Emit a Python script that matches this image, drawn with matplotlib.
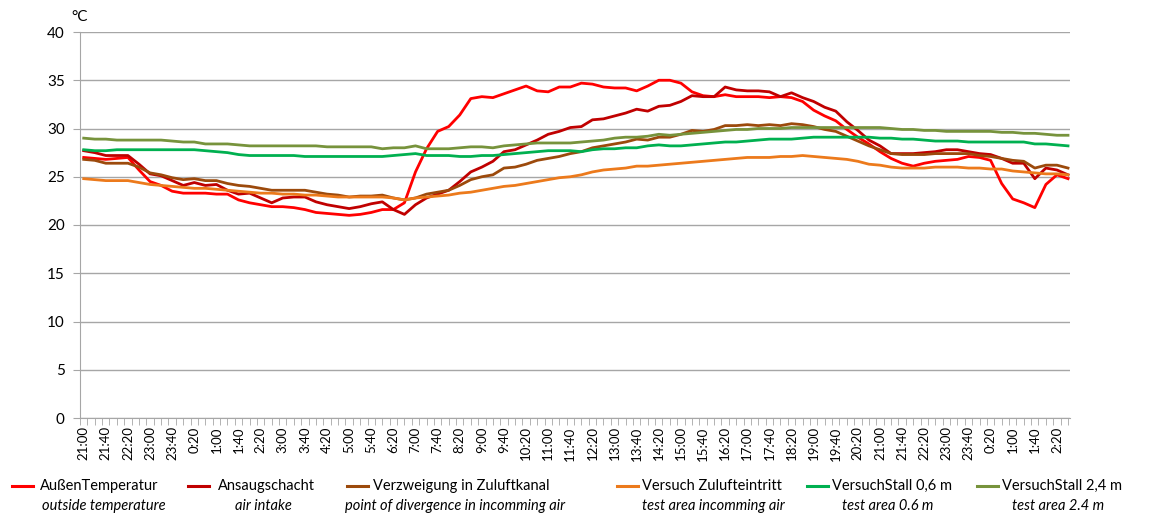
import numpy as np
import matplotlib
matplotlib.use('Agg')
from matplotlib import pyplot as plt
from matplotlib.lines import Line2D

plt.rcParams['font.family'] = ['Lato', 'DejaVu Sans']

# tick labels of the time axis (every 40 min)
time_labels = ['21:00', '21:40', '22:20', '23:00', '23:40', '0:20', '1:00', '1:40', '2:20',
               '3:00', '3:40', '4:20', '5:00', '5:40', '6:20', '7:00', '7:40', '8:20',
               '9:00', '9:40', '10:20', '11:00', '11:40', '12:20', '13:00', '13:40', '14:20',
               '15:00', '15:40', '16:20', '17:00', '17:40', '18:20', '19:00', '19:40', '20:20',
               '21:00', '21:40', '22:20', '23:00', '23:40', '0:20', '1:00', '1:40', '2:20']

# measured temperatures, one value every 20 min starting 21:00
aussen = [27.0, 26.9, 26.8, 26.9, 27.0, 25.7, 24.5, 24.1, 23.5, 23.3,
          23.3, 23.3, 23.2, 23.2, 22.6, 22.3, 22.1, 21.9, 21.9, 21.8,
          21.6, 21.3, 21.2, 21.1, 21.0, 21.1, 21.3, 21.6, 21.6, 22.3,
          25.5, 27.9, 29.7, 30.2, 31.4, 33.1, 33.3, 33.2, 33.6, 34.0,
          34.4, 33.9, 33.8, 34.3, 34.3, 34.7, 34.6, 34.3, 34.2, 34.2,
          33.9, 34.4, 35.0, 35.0, 34.7, 33.8, 33.4, 33.3, 33.5, 33.3,
          33.3, 33.3, 33.2, 33.3, 33.2, 32.8, 31.9, 31.3, 30.8, 29.9,
          29.1, 28.4, 27.6, 26.9, 26.4, 26.1, 26.4, 26.6, 26.7, 26.8,
          27.1, 27.0, 26.7, 24.3, 22.7, 22.3, 21.8, 24.2, 25.2, 24.8]

ansaug = [27.7, 27.5, 27.2, 27.2, 27.2, 26.3, 25.3, 25.1, 24.6, 24.1,
          24.4, 24.1, 24.2, 23.6, 23.2, 23.3, 22.8, 22.3, 22.8, 22.9,
          22.9, 22.4, 22.1, 21.9, 21.7, 21.9, 22.2, 22.4, 21.6, 21.1,
          22.1, 22.8, 23.2, 23.6, 24.5, 25.5, 26.0, 26.6, 27.6, 27.8,
          28.3, 28.8, 29.4, 29.7, 30.1, 30.2, 30.9, 31.0, 31.3, 31.6,
          32.0, 31.8, 32.3, 32.4, 32.8, 33.4, 33.3, 33.3, 34.3, 34.0,
          33.9, 33.9, 33.8, 33.3, 33.7, 33.2, 32.8, 32.2, 31.8, 30.7,
          29.8, 28.8, 28.2, 27.4, 27.4, 27.4, 27.5, 27.6, 27.8, 27.8,
          27.6, 27.4, 27.3, 26.9, 26.4, 26.4, 24.8, 25.9, 25.7, 25.2]

verzweigung = [26.8, 26.7, 26.4, 26.4, 26.4, 26.0, 25.4, 25.2, 24.9, 24.7,
               24.8, 24.6, 24.6, 24.3, 24.1, 24.0, 23.8, 23.6, 23.6, 23.6,
               23.6, 23.4, 23.2, 23.1, 22.9, 23.0, 23.0, 23.1, 22.8, 22.6,
               22.8, 23.2, 23.4, 23.6, 24.1, 24.7, 25.0, 25.2, 25.9, 26.0,
               26.3, 26.7, 26.9, 27.1, 27.4, 27.6, 28.0, 28.2, 28.4, 28.6,
               28.9, 28.8, 29.1, 29.1, 29.4, 29.8, 29.7, 29.9, 30.3, 30.3,
               30.4, 30.3, 30.4, 30.3, 30.5, 30.4, 30.2, 29.9, 29.7, 29.2,
               28.7, 28.2, 27.8, 27.4, 27.3, 27.3, 27.3, 27.4, 27.4, 27.4,
               27.4, 27.2, 27.1, 26.9, 26.7, 26.6, 25.9, 26.2, 26.2, 25.9]

zuluft = [24.8, 24.7, 24.6, 24.6, 24.6, 24.4, 24.2, 24.1, 24.0, 23.9,
          23.8, 23.8, 23.7, 23.6, 23.5, 23.4, 23.3, 23.3, 23.2, 23.2,
          23.1, 23.1, 23.0, 22.9, 22.9, 22.9, 22.9, 22.9, 22.8, 22.6,
          22.8, 22.9, 23.0, 23.1, 23.3, 23.4, 23.6, 23.8, 24.0, 24.1,
          24.3, 24.5, 24.7, 24.9, 25.0, 25.2, 25.5, 25.7, 25.8, 25.9,
          26.1, 26.1, 26.2, 26.3, 26.4, 26.5, 26.6, 26.7, 26.8, 26.9,
          27.0, 27.0, 27.0, 27.1, 27.1, 27.2, 27.1, 27.0, 26.9, 26.8,
          26.6, 26.3, 26.2, 26.0, 25.9, 25.9, 25.9, 26.0, 26.0, 26.0,
          25.9, 25.9, 25.8, 25.8, 25.6, 25.5, 25.4, 25.3, 25.3, 25.2]

stall_06 = [27.8, 27.7, 27.7, 27.8, 27.8, 27.8, 27.8, 27.8, 27.8, 27.8,
            27.8, 27.7, 27.6, 27.5, 27.3, 27.2, 27.2, 27.2, 27.2, 27.2,
            27.1, 27.1, 27.1, 27.1, 27.1, 27.1, 27.1, 27.1, 27.2, 27.3,
            27.4, 27.2, 27.2, 27.2, 27.1, 27.1, 27.2, 27.2, 27.3, 27.4,
            27.5, 27.6, 27.7, 27.7, 27.7, 27.6, 27.8, 27.9, 27.9, 28.0,
            28.0, 28.2, 28.3, 28.2, 28.2, 28.3, 28.4, 28.5, 28.6, 28.6,
            28.7, 28.8, 28.9, 28.9, 28.9, 29.0, 29.1, 29.1, 29.1, 29.1,
            29.1, 29.1, 29.0, 29.0, 28.9, 28.9, 28.8, 28.7, 28.7, 28.7,
            28.6, 28.6, 28.6, 28.6, 28.6, 28.6, 28.4, 28.4, 28.3, 28.2]

stall_24 = [29.0, 28.9, 28.9, 28.8, 28.8, 28.8, 28.8, 28.8, 28.7, 28.6,
            28.6, 28.4, 28.4, 28.4, 28.3, 28.2, 28.2, 28.2, 28.2, 28.2,
            28.2, 28.2, 28.1, 28.1, 28.1, 28.1, 28.1, 27.9, 28.0, 28.0,
            28.2, 27.9, 27.9, 27.9, 28.0, 28.1, 28.1, 28.0, 28.2, 28.3,
            28.4, 28.5, 28.5, 28.5, 28.5, 28.6, 28.7, 28.8, 29.0, 29.1,
            29.1, 29.2, 29.4, 29.3, 29.4, 29.5, 29.6, 29.7, 29.8, 29.9,
            29.9, 30.0, 30.0, 30.0, 30.1, 30.1, 30.1, 30.1, 30.1, 30.1,
            30.1, 30.1, 30.1, 30.0, 29.9, 29.9, 29.8, 29.8, 29.7, 29.7,
            29.7, 29.7, 29.7, 29.6, 29.6, 29.5, 29.5, 29.4, 29.3, 29.3]

series = [aussen, ansaug, verzweigung, zuluft, stall_06, stall_24]
names_de = ['AußenTemperatur', 'Ansaugschacht', 'Verzweigung in Zuluftkanal',
            'Versuch Zulufteintritt', 'VersuchStall 0,6 m', 'VersuchStall 2,4 m']
names_en = ['outside temperature', 'air intake', 'point of divergence in incomming air',
            'test area incomming air', 'test area 0.6 m', 'test area 2.4 m']
colors = ['#FF0000', '#C00000', '#9C4A0C', '#EC7A1C', '#00B050', '#77933C']

W, H = 1159, 516
fig = plt.figure(figsize=(W / 100, H / 100), dpi=100)
ax = fig.add_axes([80 / W, 1 - 418 / H, 990 / W, 386 / H])

step = 20  # minutes between samples
for vals, c in zip(series, colors):
    t = np.arange(len(vals)) * step
    ax.plot(t, vals, color=c, lw=2.0, solid_joinstyle='round')

ax.set_xlim(-6.7, 1783.6)
ax.set_ylim(0, 40)
ax.set_yticks(np.arange(0, 41, 5))
ax.yaxis.grid(True, color='#A6A6A6', lw=1)
ax.set_axisbelow(True)

ax.set_xticks(np.arange(len(time_labels)) * 40)
ax.set_xticklabels(time_labels, rotation=90, fontsize=9.5)
ax.set_xticks(np.arange(-6.7, 1784, 40 / 3), minor=True)
ax.tick_params(axis='x', which='major', length=0, pad=6)
ax.tick_params(axis='x', which='minor', length=5, color='#A6A6A6')
ax.tick_params(axis='y', length=5, color='#A6A6A6', labelsize=11, pad=6)

for s in ['top', 'right']:
    ax.spines[s].set_visible(False)
for s in ['left', 'bottom']:
    ax.spines[s].set_color('#A6A6A6')

fig.text(71 / W, 1 - 17 / H, '°C', fontsize=11, va='center', ha='left')

# legend: line handle + german name, english name in italics centred below
handle_x = [12, 188, 347, 617, 807, 977]
text_x = [40, 218, 373, 642, 832, 1002]
italic_cx = [104, 263, 455, 713, 888, 1058]
for hx, tx, ix, c, de, en in zip(handle_x, text_x, italic_cx, colors, names_de, names_en):
    fig.add_artist(Line2D([hx / W, (hx + 21) / W], [1 - 486 / H, 1 - 486 / H],
                          color=c, lw=2.2, transform=fig.transFigure))
    fig.text(tx / W, 1 - 486 / H, de, fontsize=10.5, ha='left', va='center')
    fig.text(ix / W, 1 - 506 / H, en, fontsize=10.5, ha='center', va='center',
             style='italic')

fig.savefig('out.png', dpi=100)
